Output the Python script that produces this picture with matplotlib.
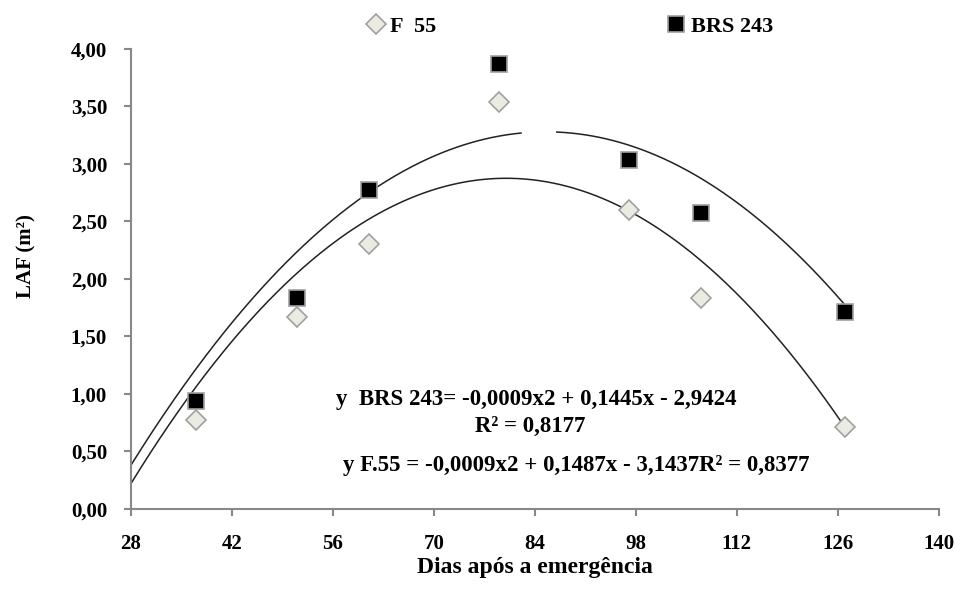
import numpy as np
import matplotlib
matplotlib.use("Agg")
import matplotlib.pyplot as plt

# dias apos a emergencia
dias = [37, 51, 61, 79, 97, 107, 127]
# LAF por cultivar
laf_f55 = [0.77, 1.67, 2.30, 3.54, 2.60, 1.83, 0.71]
laf_brs = [0.94, 1.83, 2.77, 3.87, 3.03, 2.57, 1.71]

# pontos lidos sobre as linhas de tendencia do grafico
tend_x_sup = [28, 61, 81.9, 97, 127]
tend_y_sup = [0.36, 2.80, 3.26, 3.12, 1.79]
tend_x_inf = [28, 61, 79.1, 97, 127]
tend_y_inf = [0.21, 2.55, 2.84, 2.60, 0.71]

xticks = [28, 42, 56, 70, 84, 98, 112, 126, 140]
yticks = [0, 0.5, 1, 1.5, 2, 2.5, 3, 3.5, 4]

eq_brs = "y  BRS 243= -0,0009x2 + 0,1445x - 2,9424"
r2_brs = "R² = 0,8177"
eq_f55 = "y F.55 = -0,0009x2 + 0,1487x - 3,1437R² = 0,8377"

plt.rcParams['font.family'] = ['Liberation Serif', 'DejaVu Serif']
plt.rcParams['font.weight'] = 'bold'

fig = plt.figure(figsize=(9.61, 5.89), dpi=100)
ax = fig.add_axes([0.136, 0.136, 0.841, 0.781])

# curvas de tendencia (grau 2) ajustadas aos pontos lidos
xs = np.linspace(28, 127, 400)
c_sup = np.polyfit(tend_x_sup, tend_y_sup, 2)
y_sup = np.polyval(c_sup, xs)
y_sup[(xs > 82.3) & (xs < 87.0)] = np.nan   # falha na linha do original
c_inf = np.polyfit(tend_x_inf, tend_y_inf, 2)
ax.plot(xs, y_sup, color='#222222', lw=1.1, zorder=2)
ax.plot(xs, np.polyval(c_inf, xs), color='#222222', lw=1.1, zorder=2)

ax.plot(dias, laf_f55, 'D', ms=10.5, mfc='#ECEBE2', mec='#A0A0A0', mew=1.2,
        label='F  55', zorder=3)
ax.plot(dias, laf_brs, 's', ms=11.5, mfc='black', mec='#A0A0A0', mew=1.2,
        label='BRS 243', zorder=3)

ax.set_xlim(28, 140)
ax.set_ylim(0, 4)
ax.set_xticks(xticks)
ax.set_yticks(yticks)
ax.set_yticklabels([f"{v:.2f}".replace('.', ',') for v in yticks])
ax.tick_params(labelsize=15, color='#888888', length=5, width=1.5, pad=12)
ax.tick_params(axis='x', pad=13)
for s in ('top', 'right'):
    ax.spines[s].set_visible(False)
for s in ('left', 'bottom'):
    ax.spines[s].set_color('#888888')
    ax.spines[s].set_linewidth(1.5)

ax.set_xlabel("Dias após a emergência", fontsize=17, fontweight='bold', labelpad=2)
ax.set_ylabel("LAF (m²)", fontsize=15, fontweight='bold')
ax.yaxis.set_label_coords(-0.117, 0.55)

ax.text(84.2, 0.95, eq_brs, ha='center', va='center', fontsize=16.5)
ax.text(83.3, 0.72, r2_brs, ha='center', va='center', fontsize=16.5)
ax.text(89.8, 0.38, eq_f55, ha='center', va='center', fontsize=16.5)

ax.legend(loc='upper center', bbox_to_anchor=(0.542, 1.115), ncol=2, frameon=False,
          fontsize=16, columnspacing=10.3, handletextpad=0.15, handlelength=1.0)

fig.savefig("out.png", dpi=100)
